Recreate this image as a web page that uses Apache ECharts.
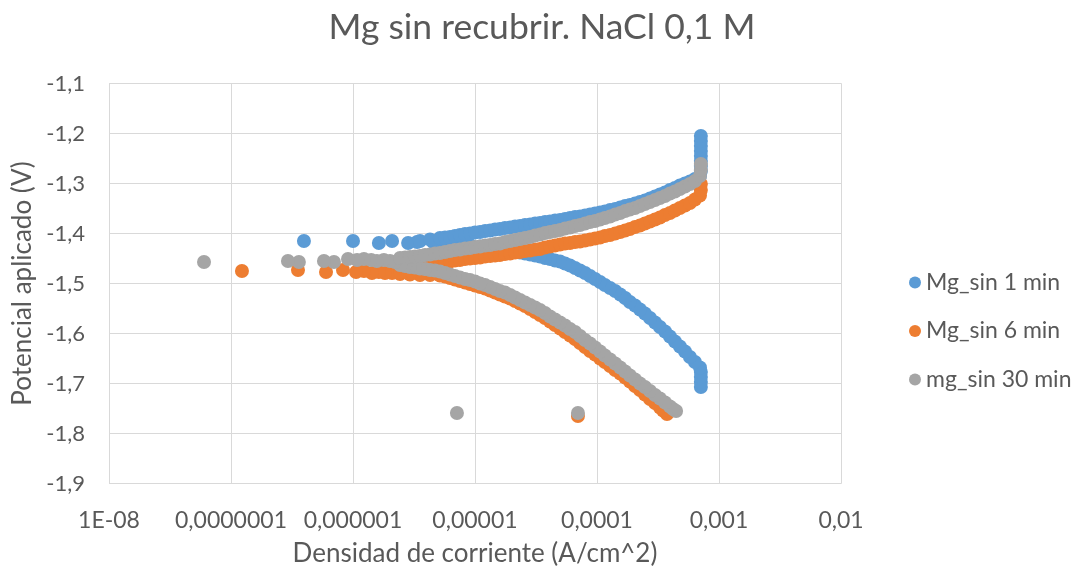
<!DOCTYPE html>
<html>
<head>
<meta charset="utf-8">
<script src="https://cdn.jsdelivr.net/npm/echarts@6/dist/echarts.min.js"></script>
<style>
  html, body { margin: 0; padding: 0; background: #fff; }
  #chart { width: 1082px; height: 572px; }
</style>
</head>
<body>
<div id="chart"></div>
<script>
// Polarization curves of uncoated Mg in 0.1 M NaCl: [current density (A/cm^2), applied potential (V)]
const seriesNames = ['Mg_sin 1 min', 'Mg_sin 6 min', 'mg_sin 30 min'];

const xTickLabels = ['1E-08', '0,0000001', '0,000001', '0,00001', '0,0001', '0,001', '0,01'];
const yTickLabels = ['-1,9', '-1,8', '-1,7', '-1,6', '-1,5', '-1,4', '-1,3', '-1,2', '-1,1'];

const mg1min = [
  // cathodic branch
  [7.1e-4,-1.707],[7.1e-4,-1.697],[7.1e-4,-1.687],[7.1e-4,-1.677],[6.98e-4,-1.668],
  [6.35e-4,-1.657],[5.78e-4,-1.647],[5.26e-4,-1.636],[4.78e-4,-1.626],[4.35e-4,-1.616],
  [3.96e-4,-1.606],[3.61e-4,-1.596],[3.28e-4,-1.587],[2.99e-4,-1.578],[2.72e-4,-1.569],
  [2.47e-4,-1.560],[2.25e-4,-1.552],[2.05e-4,-1.544],[1.86e-4,-1.537],[1.70e-4,-1.529],
  [1.55e-4,-1.522],[1.41e-4,-1.515],[1.28e-4,-1.509],[1.16e-4,-1.503],[1.06e-4,-1.497],
  [9.64e-5,-1.491],[8.77e-5,-1.485],[7.98e-5,-1.479],[7.26e-5,-1.474],[6.61e-5,-1.469],
  [6.01e-5,-1.464],[5.47e-5,-1.460],[4.98e-5,-1.456],[4.53e-5,-1.454],[4.12e-5,-1.451],
  [3.75e-5,-1.449],[3.41e-5,-1.446],[3.11e-5,-1.444],[2.83e-5,-1.442],[2.57e-5,-1.440],
  [2.34e-5,-1.438],[1.94e-5,-1.435],[1.60e-5,-1.432],[1.33e-5,-1.429],[1.10e-5,-1.426],
  [9.10e-6,-1.423],[7.53e-6,-1.421],[6.24e-6,-1.419],[5.16e-6,-1.418],
  // around the corrosion potential
  [4.53e-6,-1.417],[3.35e-6,-1.417],[2.83e-6,-1.419],[2.09e-6,-1.415],[1.63e-6,-1.419],
  [1.0e-6,-1.415],[3.96e-7,-1.415],
  // anodic branch
  [3.54e-6,-1.415],[4.28e-6,-1.412],[5.16e-6,-1.409],[5.68e-6,-1.408],[6.24e-6,-1.407],
  [6.85e-6,-1.405],[7.53e-6,-1.403],[8.28e-6,-1.401],[9.10e-6,-1.400],[1.00e-5,-1.398],
  [1.10e-5,-1.397],[1.21e-5,-1.395],[1.33e-5,-1.394],[1.46e-5,-1.392],[1.60e-5,-1.391],
  [1.76e-5,-1.389],[1.94e-5,-1.388],[2.13e-5,-1.386],[2.34e-5,-1.385],[2.57e-5,-1.383],
  [2.83e-5,-1.382],[3.11e-5,-1.380],[3.41e-5,-1.379],[3.75e-5,-1.377],[4.12e-5,-1.376],
  [4.53e-5,-1.374],[4.98e-5,-1.373],[5.47e-5,-1.371],[6.01e-5,-1.369],[6.61e-5,-1.367],
  [7.26e-5,-1.366],[7.98e-5,-1.364],[8.77e-5,-1.362],[9.64e-5,-1.360],[1.06e-4,-1.358],
  [1.16e-4,-1.356],[1.28e-4,-1.353],[1.41e-4,-1.351],[1.55e-4,-1.348],[1.70e-4,-1.345],
  [1.86e-4,-1.343],[2.05e-4,-1.340],[2.25e-4,-1.337],[2.47e-4,-1.334],[2.72e-4,-1.330],
  [2.99e-4,-1.326],[3.28e-4,-1.322],[3.61e-4,-1.318],[3.96e-4,-1.313],[4.35e-4,-1.309],
  [4.78e-4,-1.304],[5.26e-4,-1.300],[5.78e-4,-1.296],[6.35e-4,-1.291],[6.98e-4,-1.285],
  [7.1e-4,-1.275],[7.1e-4,-1.265],[7.1e-4,-1.255],[7.1e-4,-1.245],[7.1e-4,-1.235],
  [7.1e-4,-1.225],[7.1e-4,-1.215],[7.1e-4,-1.205]
];

const mg6min = [
  [6.98e-5,-1.765],
  // cathodic branch
  [3.75e-4,-1.761],[3.48e-4,-1.754],[3.28e-4,-1.748],[2.99e-4,-1.739],[2.72e-4,-1.731],
  [2.47e-4,-1.722],[2.25e-4,-1.713],[2.05e-4,-1.705],[1.86e-4,-1.696],[1.70e-4,-1.688],
  [1.55e-4,-1.680],[1.41e-4,-1.673],[1.28e-4,-1.665],[1.16e-4,-1.657],[1.06e-4,-1.650],
  [9.64e-5,-1.642],[8.77e-5,-1.635],[7.98e-5,-1.627],[7.26e-5,-1.619],[6.61e-5,-1.611],
  [6.01e-5,-1.604],[5.47e-5,-1.597],[4.98e-5,-1.590],[4.53e-5,-1.583],[4.12e-5,-1.576],
  [3.75e-5,-1.569],[3.41e-5,-1.563],[3.11e-5,-1.557],[2.83e-5,-1.551],[2.57e-5,-1.545],
  [2.34e-5,-1.540],[2.13e-5,-1.535],[1.94e-5,-1.530],[1.76e-5,-1.526],[1.60e-5,-1.522],
  [1.46e-5,-1.518],[1.33e-5,-1.514],[1.21e-5,-1.510],[1.10e-5,-1.507],[1.00e-5,-1.504],
  [9.10e-6,-1.501],[8.28e-6,-1.498],[7.53e-6,-1.495],[6.85e-6,-1.492],[6.24e-6,-1.489],
  [5.68e-6,-1.486],[5.16e-6,-1.484],[4.28e-6,-1.483],[3.54e-6,-1.483],[2.93e-6,-1.482],
  [2.43e-6,-1.481],
  // around the corrosion potential
  [2.09e-6,-1.479],[1.83e-6,-1.479],[1.63e-6,-1.477],[1.43e-6,-1.479],[1.23e-6,-1.475],
  [1.06e-6,-1.477],[8.28e-7,-1.473],[6.01e-7,-1.477],[3.54e-7,-1.473],[1.23e-7,-1.475],
  // anodic branch
  [2.43e-6,-1.477],[2.93e-6,-1.475],[3.54e-6,-1.471],[3.89e-6,-1.469],[4.28e-6,-1.466],
  [4.70e-6,-1.463],[5.16e-6,-1.461],[5.68e-6,-1.458],[6.24e-6,-1.456],[6.85e-6,-1.454],
  [7.53e-6,-1.453],[8.28e-6,-1.451],[9.10e-6,-1.450],[1.00e-5,-1.449],[1.10e-5,-1.448],
  [1.21e-5,-1.446],[1.33e-5,-1.445],[1.46e-5,-1.444],[1.60e-5,-1.443],[1.76e-5,-1.441],
  [1.94e-5,-1.440],[2.13e-5,-1.438],[2.34e-5,-1.437],[2.57e-5,-1.435],[2.83e-5,-1.434],
  [3.11e-5,-1.432],[3.41e-5,-1.431],[3.75e-5,-1.428],[4.12e-5,-1.426],[4.53e-5,-1.424],
  [4.98e-5,-1.422],[5.47e-5,-1.420],[6.01e-5,-1.419],[6.61e-5,-1.417],[7.26e-5,-1.416],
  [7.98e-5,-1.414],[8.77e-5,-1.412],[9.64e-5,-1.410],[1.06e-4,-1.408],[1.16e-4,-1.405],
  [1.28e-4,-1.403],[1.41e-4,-1.400],[1.55e-4,-1.397],[1.70e-4,-1.394],[1.86e-4,-1.391],
  [2.05e-4,-1.387],[2.25e-4,-1.384],[2.47e-4,-1.380],[2.72e-4,-1.376],[2.99e-4,-1.372],
  [3.28e-4,-1.368],[3.61e-4,-1.363],[3.96e-4,-1.359],[4.35e-4,-1.354],[4.78e-4,-1.349],
  [5.26e-4,-1.344],[5.78e-4,-1.339],[6.35e-4,-1.332],[6.98e-4,-1.324],[7.1e-4,-1.313],
  [7.1e-4,-1.301]
];

const mg30min = [
  [6.98e-5,-1.759],[7.11e-6,-1.759],
  // cathodic branch
  [4.45e-4,-1.755],[4.20e-4,-1.751],[3.96e-4,-1.746],[3.61e-4,-1.738],[3.28e-4,-1.730],
  [2.99e-4,-1.723],[2.72e-4,-1.715],[2.47e-4,-1.707],[2.25e-4,-1.700],[2.05e-4,-1.692],
  [1.86e-4,-1.684],[1.70e-4,-1.676],[1.55e-4,-1.668],[1.41e-4,-1.660],[1.28e-4,-1.652],
  [1.16e-4,-1.644],[1.06e-4,-1.636],[9.64e-5,-1.628],[8.77e-5,-1.620],[7.98e-5,-1.613],
  [7.26e-5,-1.605],[6.61e-5,-1.597],[6.01e-5,-1.591],[5.47e-5,-1.584],[4.98e-5,-1.578],
  [4.53e-5,-1.572],[4.12e-5,-1.566],[3.75e-5,-1.559],[3.41e-5,-1.553],[3.11e-5,-1.548],
  [2.83e-5,-1.543],[2.57e-5,-1.538],[2.34e-5,-1.533],[2.13e-5,-1.528],[1.94e-5,-1.523],
  [1.76e-5,-1.518],[1.60e-5,-1.515],[1.46e-5,-1.511],[1.33e-5,-1.507],[1.21e-5,-1.503],
  [1.10e-5,-1.500],[1.00e-5,-1.496],[9.10e-6,-1.493],[8.28e-6,-1.491],[7.53e-6,-1.488],
  [6.85e-6,-1.485],[6.24e-6,-1.482],[5.68e-6,-1.479],[5.16e-6,-1.476],[4.70e-6,-1.474],
  [4.28e-6,-1.473],[3.89e-6,-1.471],[3.54e-6,-1.470],[3.22e-6,-1.468],[2.93e-6,-1.467],
  [2.67e-6,-1.465],[2.43e-6,-1.463],
  // around the corrosion potential
  [2.21e-6,-1.457],[2.01e-6,-1.455],[1.79e-6,-1.453],[1.57e-6,-1.455],[1.41e-6,-1.453],
  [1.23e-6,-1.451],[1.08e-6,-1.453],[9.10e-7,-1.451],[6.98e-7,-1.457],[5.78e-7,-1.455],
  [3.60e-7,-1.457],[2.93e-7,-1.455],[6.01e-8,-1.457],
  // anodic branch
  [2.43e-6,-1.449],[2.67e-6,-1.448],[2.93e-6,-1.447],[3.22e-6,-1.446],[3.54e-6,-1.445],
  [3.89e-6,-1.443],[4.28e-6,-1.442],[4.70e-6,-1.440],[5.16e-6,-1.439],[5.68e-6,-1.437],
  [6.24e-6,-1.435],[6.85e-6,-1.433],[7.53e-6,-1.432],[8.28e-6,-1.430],[9.10e-6,-1.429],
  [1.00e-5,-1.427],[1.10e-5,-1.426],[1.21e-5,-1.424],[1.33e-5,-1.423],[1.46e-5,-1.421],
  [1.60e-5,-1.420],[1.76e-5,-1.417],[1.94e-5,-1.415],[2.13e-5,-1.413],[2.34e-5,-1.411],
  [2.57e-5,-1.409],[2.83e-5,-1.407],[3.11e-5,-1.404],[3.41e-5,-1.402],[3.75e-5,-1.399],
  [4.12e-5,-1.397],[4.53e-5,-1.395],[4.98e-5,-1.393],[5.47e-5,-1.390],[6.01e-5,-1.388],
  [6.61e-5,-1.385],[7.26e-5,-1.383],[7.98e-5,-1.380],[8.77e-5,-1.377],[9.64e-5,-1.375],
  [1.06e-4,-1.372],[1.16e-4,-1.369],[1.28e-4,-1.366],[1.41e-4,-1.362],[1.55e-4,-1.359],
  [1.70e-4,-1.355],[1.86e-4,-1.352],[2.05e-4,-1.349],[2.25e-4,-1.345],[2.47e-4,-1.341],
  [2.72e-4,-1.337],[2.99e-4,-1.333],[3.28e-4,-1.329],[3.61e-4,-1.325],[3.96e-4,-1.320],
  [4.35e-4,-1.316],[4.78e-4,-1.311],[5.26e-4,-1.306],[5.78e-4,-1.301],[6.35e-4,-1.295],
  [6.98e-4,-1.285],[7.1e-4,-1.273],[7.1e-4,-1.261]
];

const colors = ['#5B9BD5', '#ED7D31', '#A5A5A5'];
const textColor = '#595959';
const gridColor = '#D9D9D9';
const fontFamily = 'Lato, "Open Sans", sans-serif';

const chart = echarts.init(document.getElementById('chart'), null, { renderer: 'canvas' });

chart.setOption({
  animation: false,
  backgroundColor: '#ffffff',
  color: colors,
  title: {
    text: 'Mg sin recubrir. NaCl 0,1 M',
    left: 537,
    top: 5,
    textAlign: 'center',
    textStyle: { color: textColor, fontFamily: fontFamily, fontSize: 35.5, fontWeight: 'normal' }
  },
  legend: {
    orient: 'vertical',
    left: 904,
    top: 266,
    itemWidth: 12,
    itemHeight: 12,
    itemGap: 25.5,
    icon: 'circle',
    textStyle: { color: textColor, fontFamily: fontFamily, fontSize: 23 },
    data: seriesNames
  },
  grid: { left: 109, right: 241, top: 83.5, bottom: 88.5, containLabel: false },
  xAxis: {
    type: 'log',
    logBase: 10,
    min: 1e-8,
    max: 1e-2,
    name: 'Densidad de corriente (A/cm^2)',
    nameLocation: 'middle',
    nameGap: 57,
    nameTextStyle: { color: textColor, fontFamily: fontFamily, fontSize: 26 },
    axisLine: { show: false },
    axisTick: { show: false },
    splitLine: { show: true, lineStyle: { color: gridColor, width: 1 } },
    axisLabel: {
      color: textColor, fontFamily: fontFamily, fontSize: 23, margin: 26,
      formatter: v => xTickLabels[Math.round(Math.log10(v)) + 8] || ''
    }
  },
  yAxis: {
    type: 'value',
    min: -1.9,
    max: -1.1,
    interval: 0.1,
    name: 'Potencial aplicado (V)',
    nameLocation: 'middle',
    nameGap: 69,
    nameTextStyle: { color: textColor, fontFamily: fontFamily, fontSize: 26 },
    axisLine: { show: false },
    axisTick: { show: false },
    splitLine: { show: true, lineStyle: { color: gridColor, width: 1 } },
    axisLabel: {
      color: textColor, fontFamily: fontFamily, fontSize: 22, margin: 24,
      formatter: v => yTickLabels[Math.round((v + 1.9) * 10)] || ''
    }
  },
  series: [
    { name: seriesNames[0], type: 'scatter', data: mg1min, symbolSize: 14, itemStyle: { opacity: 1 } },
    { name: seriesNames[1], type: 'scatter', data: mg6min, symbolSize: 14, itemStyle: { opacity: 1 } },
    { name: seriesNames[2], type: 'scatter', data: mg30min, symbolSize: 14, itemStyle: { opacity: 1 } }
  ]
});
</script>
</body>
</html>
